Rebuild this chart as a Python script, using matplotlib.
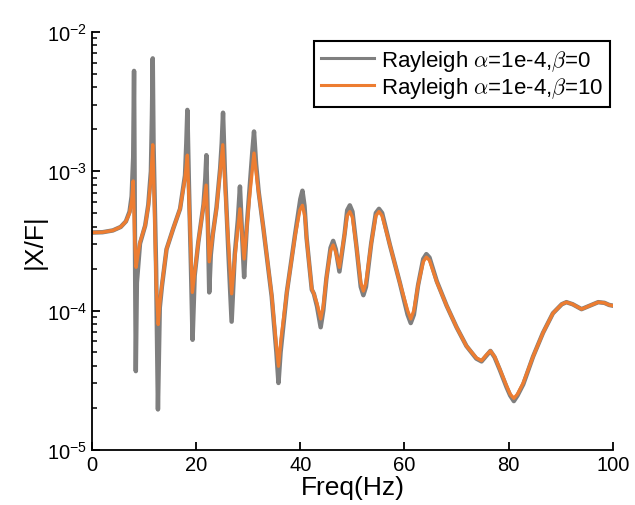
import numpy as np
import matplotlib
matplotlib.use("Agg")
import matplotlib.pyplot as plt

plt.rcParams['font.family'] = ['Liberation Sans', 'DejaVu Sans']
plt.rcParams['mathtext.fontset'] = 'cm'

# readings: frequency (Hz) and log10 |X/F|
beta10_freq = [0, 2, 4, 5.5, 6.5, 7.2, 7.6, 7.9, 8.2, 8.45, 8.8, 9.2, 10.2, 10.8,
               11.3, 11.65, 12.0, 12.3, 12.7, 13.0, 13.4, 14.3, 15.6, 16.9, 17.85,
               18.3, 18.8, 19.26, 19.8, 20.4, 21.4, 21.9, 22.5, 23.2, 23.9, 24.6,
               25.1, 25.9, 26.8, 27.6, 28.4, 29.2, 30.2, 31.1, 31.8, 32.9, 34.5,
               35.3, 35.8, 36.3, 37.4, 39.0, 39.9, 40.4, 40.9, 41.2, 42.2, 42.6,
               43.2, 43.9, 44.4, 45.0, 45.8, 46.3, 46.8, 47.5, 48.5, 49.0, 49.5,
               50.0, 50.8, 51.6, 52.1, 52.6, 53.6, 54.5, 55.1, 55.7, 57.2, 59.1,
               60.6, 61.2, 61.8, 62.6, 63.6, 64.2, 64.8, 66.2, 68.1, 70.0, 71.9,
               73.8, 74.8, 75.7, 76.5, 77.3, 78.3, 79.6, 80.3, 81.0, 81.7, 82.8,
               84.7, 86.6, 88.5, 90.2, 91.1, 92.3, 94.0, 95.6, 97.2, 98.4, 99.3, 100]
beta10_log = [-3.44, -3.438, -3.425, -3.40, -3.36, -3.30, -3.22, -3.07, -3.5, -3.69,
              -3.60, -3.51, -3.39, -3.25, -3.05, -2.81, -3.3, -3.8, -4.10, -3.95,
              -3.82, -3.56, -3.41, -3.27, -3.05, -2.885, -3.4, -3.87, -3.7, -3.51,
              -3.245, -3.10, -3.65, -3.45, -3.27, -3.0, -2.81, -3.35, -3.88, -3.55,
              -3.27, -3.63, -3.2, -2.87, -3.1, -3.41, -3.89, -4.22, -4.40, -4.2,
              -3.87, -3.46, -3.28, -3.245, -3.33, -3.485, -3.845, -3.88, -3.95,
              -4.06, -3.97, -3.77, -3.57, -3.53, -3.58, -3.69, -3.45, -3.32, -3.29,
              -3.33, -3.55, -3.80, -3.86, -3.80, -3.52, -3.32, -3.29, -3.32, -3.53,
              -3.80, -4.00, -4.06, -4.00, -3.82, -3.65, -3.617, -3.64, -3.795,
              -3.966, -4.12, -4.255, -4.34, -4.36, -4.32, -4.29, -4.33, -4.42,
              -4.54, -4.60, -4.63, -4.60, -4.52, -4.33, -4.16, -4.02, -3.955, -3.94,
              -3.955, -3.99, -3.965, -3.94, -3.945, -3.96, -3.965]

beta0_freq = [0, 2, 4, 5.5, 6.5, 7.2, 7.6, 7.9, 8.06, 8.2, 8.4, 8.6, 9.2, 10.2,
              10.8, 11.3, 11.5, 11.65, 11.8, 12.3, 12.65, 13.0, 13.4, 14.3, 15.6,
              16.9, 17.85, 18.1, 18.3, 18.6, 19.0, 19.3, 19.7, 20.4, 21.4, 21.75,
              21.95, 22.25, 22.5, 22.8, 23.2, 23.9, 24.6, 24.9, 25.15, 25.5, 26.2,
              26.8, 27.4, 28.0, 28.4, 28.8, 29.2, 29.7, 30.2, 30.8, 31.1, 31.5,
              32.0, 32.9, 34.5, 35.4, 35.8, 36.2, 37.4, 39.0, 40.0, 40.4, 40.8,
              41.2, 42.2, 42.6, 43.2, 43.9, 44.4, 45.0, 45.8, 46.3, 46.8, 47.5,
              48.5, 49.0, 49.5, 50.0, 50.8, 51.6, 52.1, 52.6, 53.6, 54.5, 55.1,
              55.7, 57.2, 59.1, 60.6, 61.2, 61.8, 62.6, 63.6, 64.2, 64.8, 66.2,
              68.1, 70.0, 71.9, 73.8, 74.8, 75.7, 76.5, 77.3, 78.3, 79.6, 80.3,
              81.0, 81.7, 82.8, 84.7, 86.6, 88.5, 90.2, 91.1, 92.3, 94.0, 95.6,
              97.2, 98.4, 99.3, 100]
beta0_log = [-3.44, -3.438, -3.425, -3.40, -3.36, -3.29, -3.18, -2.90, -2.28, -3.3,
             -4.435, -3.8, -3.52, -3.39, -3.24, -3.0, -2.6, -2.19, -2.8, -3.7, -4.71,
             -3.98, -3.83, -3.56, -3.41, -3.27, -3.03, -2.8, -2.56, -3.1, -3.7,
             -4.21, -3.75, -3.51, -3.24, -3.05, -2.885, -3.4, -3.87, -3.6, -3.45,
             -3.26, -2.98, -2.8, -2.58, -3.0, -3.6, -4.08, -3.6, -3.35, -3.11,
             -3.45, -3.76, -3.4, -3.15, -2.85, -2.715, -2.95, -3.15, -3.41, -3.9,
             -4.3, -4.52, -4.3, -3.87, -3.45, -3.2, -3.14, -3.25, -3.48, -3.85,
             -3.88, -3.97, -4.12, -4.0, -3.77, -3.55, -3.50, -3.56, -3.72, -3.45,
             -3.28, -3.245, -3.29, -3.55, -3.83, -3.89, -3.83, -3.52, -3.30, -3.27,
             -3.30, -3.53, -3.80, -4.03, -4.09, -4.03, -3.82, -3.63, -3.595, -3.62,
             -3.79, -3.966, -4.12, -4.255, -4.345, -4.365, -4.325, -4.29, -4.335,
             -4.425, -4.55, -4.61, -4.65, -4.61, -4.53, -4.33, -4.16, -4.02, -3.955,
             -3.94, -3.955, -3.99, -3.965, -3.94, -3.945, -3.96, -3.965]

labels = [r'Rayleigh $\alpha$=1e-4,$\beta$=0', r'Rayleigh $\alpha$=1e-4,$\beta$=10']

fig = plt.figure(figsize=(6.35, 5.06), dpi=100)
ax = fig.add_axes([0.145, 0.109, 0.82, 0.826])

ax.plot(beta0_freq, 10 ** np.array(beta0_log), color='#7f7f7f', lw=3.2,
        solid_joinstyle='round', label=labels[0])
ax.plot(beta10_freq, 10 ** np.array(beta10_log), color='#ED7D31', lw=2.4,
        solid_joinstyle='round', label=labels[1])

ax.set_yscale('log')
ax.set_xlim(0, 100)
ax.set_ylim(1e-5, 1e-2)
ax.set_xticks([0, 20, 40, 60, 80, 100])
ax.spines['top'].set_visible(False)
ax.spines['right'].set_visible(False)
ax.spines['left'].set_linewidth(1.3)
ax.spines['bottom'].set_linewidth(1.3)
ax.tick_params(which='major', direction='in', length=6, width=1.3, labelsize=14.5)
ax.tick_params(which='minor', direction='in', length=3.5, width=1.1)
ax.set_xlabel('Freq(Hz)', fontsize=19, labelpad=1)
ax.set_ylabel('|X/F|', fontsize=19, labelpad=0)

leg = ax.legend(loc='upper right', bbox_to_anchor=(0.994, 0.978), fontsize=16,
                fancybox=False, framealpha=1, edgecolor='black', handlelength=2.4,
                borderpad=0.3, labelspacing=0.1, handletextpad=0.3, borderaxespad=0)
leg.get_frame().set_linewidth(1.5)
for line in leg.get_lines():
    line.set_linewidth(2.2)

fig.savefig('out.png', dpi=100)
